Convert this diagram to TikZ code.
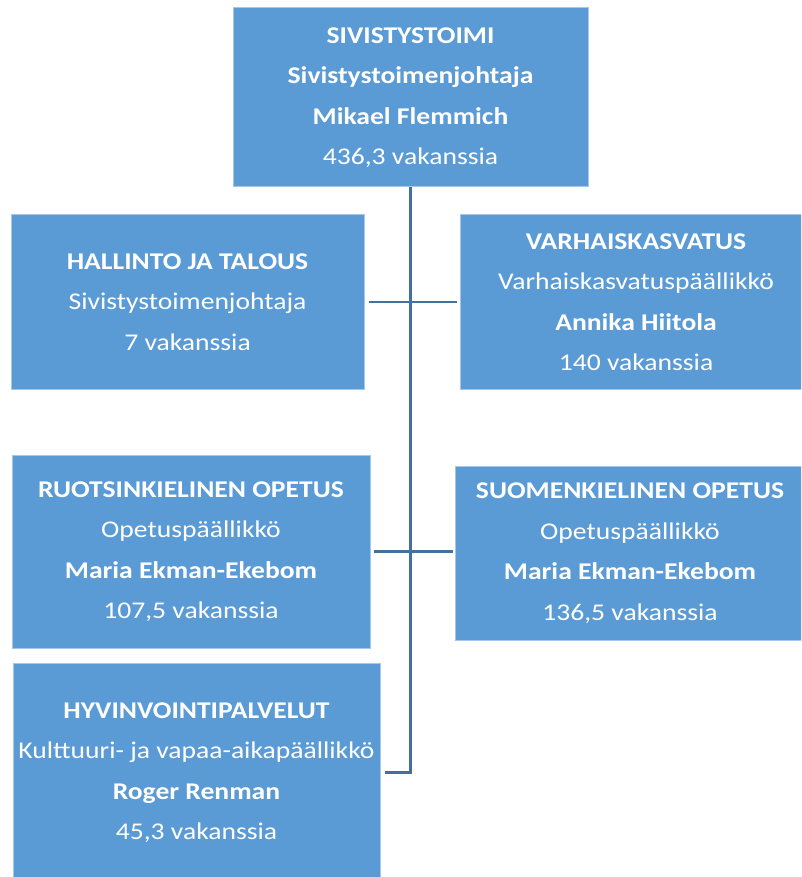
\documentclass[tikz,border=0pt]{standalone}
\usepackage{fontspec}
\setmainfont{Carlito}[FakeStretch=1.15]
\definecolor{boxblue}{HTML}{5B9BD5}
\definecolor{boxedge}{HTML}{A5C8EA}
\definecolor{linkblue}{HTML}{41719C}
\begin{document}
\begin{tikzpicture}[x=1pt,y=-1pt,
  orgbox/.style={fill=boxblue, draw=boxedge, line width=1pt, text=white, align=center,
    font=\fontsize{24}{40.5}\selectfont, inner sep=0pt},
  link/.style={draw=linkblue, line width=2.8pt}]
\useasboundingbox (0,0) rectangle (801,877);
\clip (0,0) rectangle (801,877);
\fill[white] (0,0) rectangle (801,877);
\node[orgbox, minimum width=355pt, minimum height=179pt] (top) at (410.5,97.5)
  {\textbf{SIVISTYSTOIMI}\\ \textbf{Sivistystoimenjohtaja}\\ \textbf{Mikael Flemmich}\\ 436,3 vakanssia};
\node[orgbox, minimum width=353pt, minimum height=174pt] (hal) at (187.5,302)
  {\textbf{HALLINTO JA TALOUS}\\ Sivistystoimenjohtaja\\ 7 vakanssia};
\node[orgbox, minimum width=352pt, minimum height=174pt] (var) at (636,302)
  {\textbf{VARHAISKASVATUS}\\ Varhaiskasvatuspäällikkö\\ \textbf{Annika Hiitola}\\ 140 vakanssia};
\node[orgbox, minimum width=358pt, minimum height=193pt] (ruo) at (191,551.5)
  {\textbf{RUOTSINKIELINEN OPETUS}\\ Opetuspäällikkö\\ \textbf{Maria Ekman-Ekebom}\\ 107,5 vakanssia};
\node[orgbox, minimum width=350pt, minimum height=174pt] (suo) at (630,553)
  {\textbf{SUOMENKIELINEN OPETUS}\\ Opetuspäällikkö\\ \textbf{Maria Ekman-Ekebom}\\ 136,5 vakanssia};
\node[orgbox, minimum width=367pt, minimum height=219pt] (hyv) at (196.5,772.5)
  {\textbf{HYVINVOINTIPALVELUT}\\ Kulttuuri- ja vapaa-aikapäällikkö\\ \textbf{Roger Renman}\\ 45,3 vakanssia};
\coordinate (bend) at (top.south |- hyv.east);
\draw[link, shorten >=4pt] (top.south) -- (bend) -- (hyv.east);
\draw[link, shorten <=4pt, shorten >=3pt] (hal.east) -- (var.west);
\draw[link, shorten <=3pt, shorten >=2pt] (ruo.east) -- (ruo.east -| suo.west);
\end{tikzpicture}
\end{document}
